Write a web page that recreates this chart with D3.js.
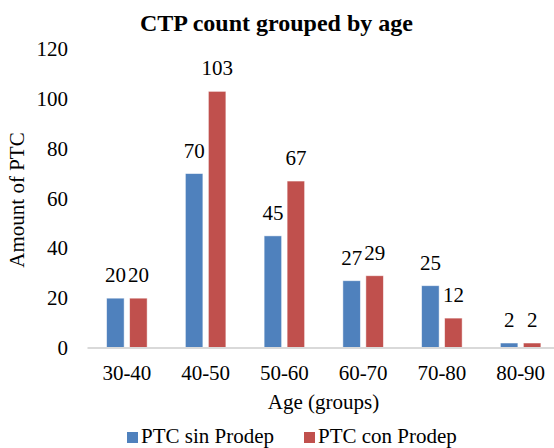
<!doctype html>
<html>
<head>
<meta charset="utf-8">
<script src="https://cdn.jsdelivr.net/npm/d3@7"></script>
<style>
  body { margin: 0; }
  #chart text { font-family: "Liberation Serif", "Times New Roman", serif !important; }
</style>
</head>
<body>
<svg id="chart" width="554" height="448"></svg>
<script>
  var ageGroups = ['30-40', '40-50', '50-60', '60-70', '70-80', '80-90'];
  var sinProdep = [20, 70, 45, 27, 25, 2];
  var conProdep = [20, 103, 67, 29, 12, 2];
  var seriesNames = ['PTC sin Prodep', 'PTC con Prodep'];
  var seriesColors = ['#4F81BD', '#C0504D'];
  var yTicks = [0, 20, 40, 60, 80, 100, 120];

  var svg = d3.select('#chart');

  var x = d3.scaleBand().domain(ageGroups).range([87.5, 560]);
  var y = d3.scaleLinear().domain([0, 120]).range([348, 49]);
  var barW = 17.5, gap = 5.5;

  // shared text look
  function label(g, size) {
    return g.append('text')
      .style('font-family', '"Liberation Serif", "Times New Roman", serif', 'important')
      .attr('font-size', size || 21)
      .attr('fill', '#000');
  }

  // title
  label(svg, 24)
    .attr('x', 276.5).attr('y', 31)
    .attr('text-anchor', 'middle')
    .attr('font-weight', 'bold')
    .text('CTP count grouped by age');

  // y tick labels, no axis line
  var yg = svg.append('g');
  yTicks.forEach(function (t) {
    label(yg)
      .attr('x', 68)
      .attr('y', y(t) + 7)
      .attr('text-anchor', 'end')
      .text(t);
  });

  // bars + value labels
  [sinProdep, conProdep].forEach(function (vals, si) {
    var g = svg.append('g');
    var bx = function (i) {
      var c = x(ageGroups[i]) + x.bandwidth() / 2;
      return si === 0 ? c - gap / 2 - barW : c + gap / 2;
    };
    g.selectAll('rect')
      .data(vals)
      .enter().append('rect')
      .attr('x', function (d, i) { return bx(i); })
      .attr('y', function (d) { return y(d); })
      .attr('width', barW)
      .attr('height', function (d) { return y(0) - y(d); })
      .attr('fill', seriesColors[si])
      .attr('stroke', '#fff')
      .attr('stroke-opacity', 0.6)
      .attr('stroke-width', 0.8);
    vals.forEach(function (v, i) {
      label(g)
        .attr('x', bx(i) + barW / 2)
        .attr('y', y(v) - 16)
        .attr('text-anchor', 'middle')
        .text(v);
    });
  });

  // x axis
  svg.append('line')
    .attr('x1', 87.5).attr('x2', 560)
    .attr('y1', 348).attr('y2', 348)
    .attr('stroke', '#D9D9D9').attr('stroke-width', 2);

  var xg = svg.append('g');
  ageGroups.forEach(function (a) {
    label(xg)
      .attr('x', x(a) + x.bandwidth() / 2)
      .attr('y', 380)
      .attr('text-anchor', 'middle')
      .text(a);
  });

  // axis titles
  label(svg)
    .attr('x', 323.5).attr('y', 409)
    .attr('text-anchor', 'middle')
    .text('Age (groups)');

  label(svg)
    .attr('transform', 'translate(24,200) rotate(-90)')
    .attr('text-anchor', 'middle')
    .text('Amount of PTC');

  // legend
  var legendX = [127, 304];
  seriesNames.forEach(function (name, i) {
    svg.append('rect')
      .attr('x', legendX[i]).attr('y', 432)
      .attr('width', 11).attr('height', 11)
      .attr('fill', seriesColors[i]);
    label(svg)
      .attr('x', legendX[i] + 14).attr('y', 443)
      .text(name);
  });
</script>
</body>
</html>
